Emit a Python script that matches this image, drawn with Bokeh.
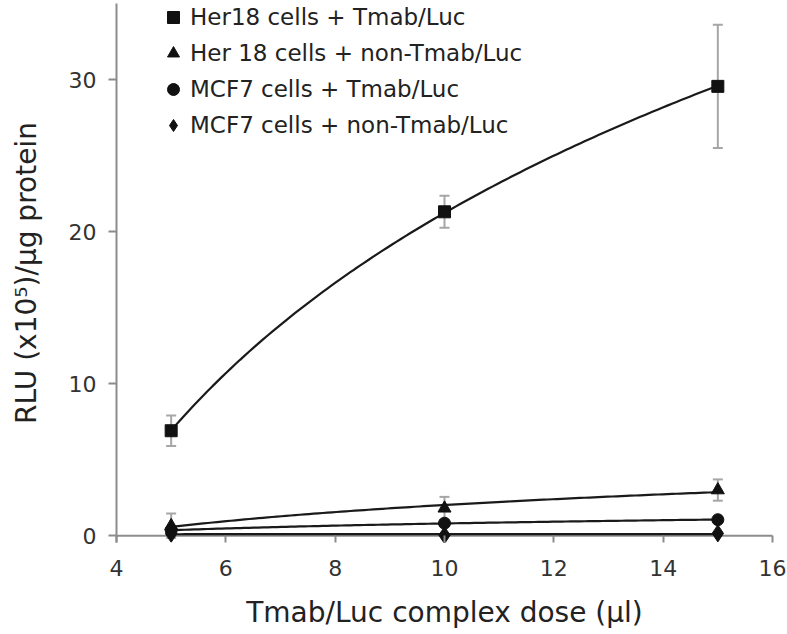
import numpy as np
from bokeh.plotting import figure
from bokeh.models import (ColumnDataSource, Whisker, TeeHead, FixedTicker,
                          Legend, LegendItem, Span)
from bokeh.embed import file_html
from bokeh.resources import INLINE

# ---- data ----
dose = [5, 10, 15]
series_names = ["Her18 cells + Tmab/Luc", "Her 18 cells + non-Tmab/Luc",
                "MCF7 cells + Tmab/Luc", "MCF7 cells + non-Tmab/Luc"]
her18_tmab = [6.9, 21.3, 29.55]
her18_tmab_err = [1.0, 1.05, 4.05]
her18_non = [0.65, 1.8, 3.0]
her18_non_err = [0.8, 0.75, 0.7]
mcf7_tmab = [0.35, 0.82, 1.05]
mcf7_tmab_err = [0.15, 0.12, 0.12]
mcf7_non = [0.12, 0.03, 0.15]
mcf7_non_err = [0.08, 0.05, 0.08]
markers = ["square", "triangle", "circle", "diamond"]
marker_sizes = [12, 13, 12, 17]
x_ticks = [4, 6, 8, 10, 12, 14, 16]
y_ticks = [0, 10, 20, 30]

FONT = "DejaVu Sans"
AX = "#8c8c8c"

p = figure(frame_width=656, frame_height=539,
           min_border_left=116, min_border_right=15,
           min_border_top=3, min_border_bottom=92,
           x_range=(4, 16), y_range=(-0.45, 35.0),
           output_backend="svg", toolbar_location=None)
p.outline_line_color = None
p.xgrid.visible = False
p.ygrid.visible = False
p.background_fill_color = "white"

xa = p.xaxis[0]
ya = p.yaxis[0]
xa.ticker = FixedTicker(ticks=x_ticks)
ya.ticker = FixedTicker(ticks=y_ticks)
for ax in (xa, ya):
    ax.axis_line_color = AX
    ax.axis_line_width = 2
    ax.major_tick_line_color = AX
    ax.major_tick_line_width = 2
    ax.minor_tick_line_color = None
    ax.major_label_text_font = FONT
    ax.major_label_text_font_size = "22px"
    ax.major_label_text_color = "#333333"
    ax.axis_label_text_font = FONT
    ax.axis_label_text_font_size = "28px"
    ax.axis_label_text_font_style = "normal"
    ax.axis_label_text_color = "#222222"
# x axis: the visible axis line is the y = 0 rule below; ticks hang from it
xa.axis_line_color = None
xa.major_tick_in = 7
xa.major_tick_out = 0
ya.major_tick_in = 0
ya.major_tick_out = 8
xa.major_label_standoff = 17
ya.major_label_standoff = 12
xa.axis_label = "Tmab/Luc complex dose (µl)"
ya.axis_label = "RLU (x10⁵)/µg protein"
xa.axis_label_standoff = 17
ya.axis_label_standoff = 23

zero_rule = Span(location=0, dimension="width", line_color=AX, line_width=2,
                 level="underlay")
p.add_layout(zero_rule)

all_y = [her18_tmab, her18_non, mcf7_tmab, mcf7_non]
all_err = [her18_tmab_err, her18_non_err, mcf7_tmab_err, mcf7_non_err]

x_arr = np.array(dose, dtype=float)
xs_fit = np.linspace(min(dose), max(dose), 120)

items = []
for name, ys, errs, mk, ms in zip(series_names, all_y, all_err, markers, marker_sizes):
    ys = np.array(ys)
    errs = np.array(errs)
    # logarithmic trend line fitted to the measured points
    b, a = np.polyfit(np.log(x_arr), ys, 1)
    p.line(xs_fit, a + b * np.log(xs_fit), line_color="#1a1a1a", line_width=2.2)
    src = ColumnDataSource(dict(x=dose, y=ys, lo=ys - errs, hi=ys + errs))
    w = Whisker(source=src, base="x", lower="lo", upper="hi",
                line_color="#a6a6a6", line_width=2,
                upper_head=TeeHead(size=10, line_color="#a6a6a6", line_width=2),
                lower_head=TeeHead(size=10, line_color="#a6a6a6", line_width=2),
                level="underlay")
    p.add_layout(w)
    r = p.scatter("x", "y", source=src, marker=mk, size=ms,
                  fill_color="#111111", line_color="#111111")
    items.append(LegendItem(label=name, renderers=[r]))

legend = Legend(items=items, location=(42, 402), padding=0, margin=0,
                glyph_width=30, glyph_height=30, label_height=30,
                spacing=6, label_standoff=2,
                label_text_font=FONT, label_text_font_size="23px",
                label_text_color="#222222",
                border_line_color=None, background_fill_alpha=0)
p.add_layout(legend, "center")

open("out.html", "w").write(file_html(p, INLINE))
